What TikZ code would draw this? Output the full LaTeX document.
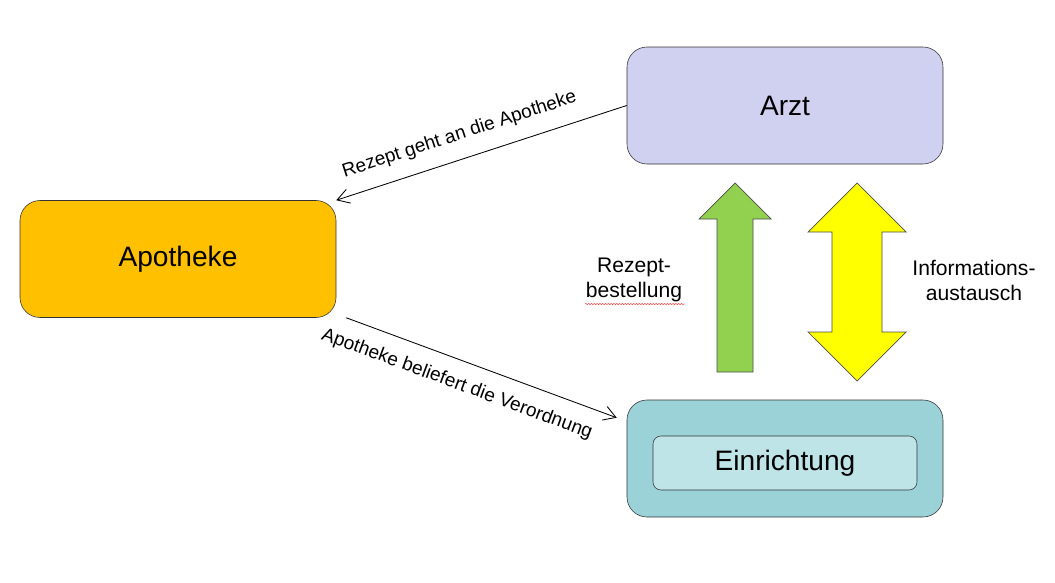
\documentclass[tikz,border=0pt]{standalone}
\usepackage{fontspec}
\setmainfont{Liberation Sans}
\usetikzlibrary{arrows.meta,decorations.pathmorphing}
\definecolor{arztblau}{RGB}{208,208,240}
\definecolor{apoorange}{RGB}{255,192,0}
\definecolor{einraus}{RGB}{155,210,216}
\definecolor{einrinnen}{RGB}{190,228,232}
\definecolor{pfeilgruen}{RGB}{146,208,80}
\definecolor{pfeilgelb}{RGB}{255,255,0}

\begin{document}
\begin{tikzpicture}[
  box/.style={draw=black!80,rounded corners=0.5cm,minimum width=7.9cm,minimum height=2.925cm,font=\fontsize{20}{24}\selectfont},
  lbl/.style={font=\fontsize{13.5}{16}\selectfont,align=center},
  seite/.style={font=\fontsize{15}{17.8}\selectfont,align=center},
  conn/.style={-{Straight Barb[length=3mm,width=3.6mm]},line width=0.6pt}]
\useasboundingbox (0,0) rectangle (26.375,-14.575);
\node[box,fill=arztblau] (arzt) at (19.625,-2.6375) {Arzt};
\node[box,fill=apoorange] (apotheke) at (4.45,-6.475) {Apotheke};
\node[box,fill=einraus] (einrichtung) at (19.625,-11.4625) {};
\node[draw=black!80,rounded corners=0.2cm,fill=einrinnen,minimum width=6.6cm,minimum height=1.35cm,font=\fontsize{20}{24}\selectfont] (einr) at (19.625,-11.575) {Einrichtung};
\draw[conn] (arzt.west) -- (apotheke.north east) node[lbl,sloped,above=0.25cm,pos=0.55]{Rezept geht an die Apotheke};
\draw[conn] ([xshift=0.25cm]apotheke.south east) -- ([xshift=-0.25cm,yshift=-0.45cm]einrichtung.north west) node[lbl,sloped,below=0.25cm,pos=0.44]{Apotheke beliefert die Verordnung};
\filldraw[fill=pfeilgruen,draw=black!70,line width=0.5pt] (18.375,-4.575) -- (19.275,-5.475) -- (18.825,-5.475) -- (18.825,-9.3) -- (17.925,-9.3) -- (17.925,-5.475) -- (17.475,-5.475) -- cycle;
\filldraw[fill=pfeilgelb,draw=black!70,line width=0.5pt] (21.425,-4.575) -- (22.65,-5.8) -- (22.05,-5.8) -- (22.05,-8.3) -- (22.65,-8.3) -- (21.425,-9.525) -- (20.2,-8.3) -- (20.8,-8.3) -- (20.8,-5.8) -- (20.2,-5.8) -- cycle;
\node[seite] (rezbest) at (15.85,-7.0) {Rezept-\\bestellung};
\node[seite] (infoaus) at (24.35,-7.0) {Informations-\\austausch};
\draw[red,decorate,decoration={snake,amplitude=0.35pt,segment length=2pt},line width=0.3pt] (14.625,-7.6) -- (17.125,-7.6);
\end{tikzpicture}
\end{document}
